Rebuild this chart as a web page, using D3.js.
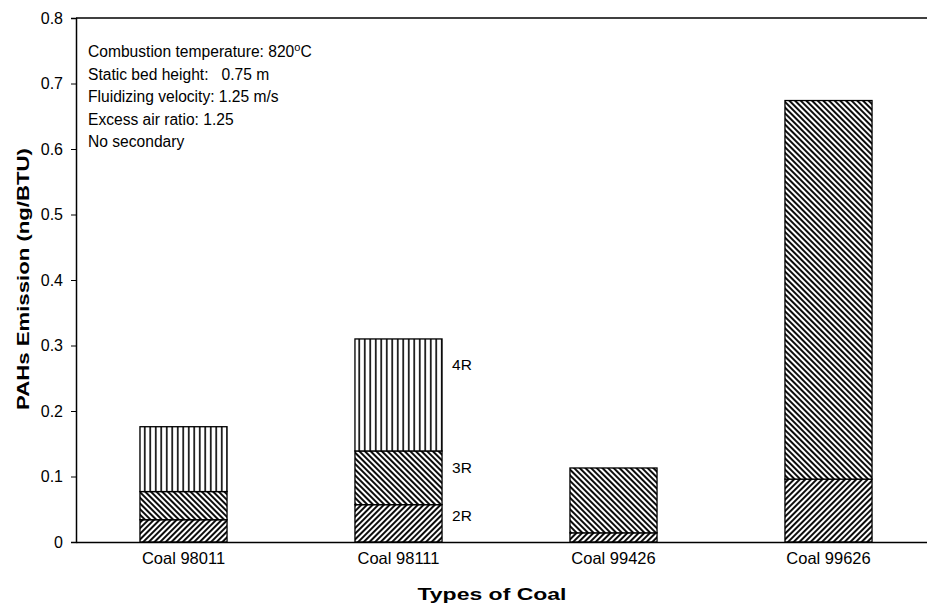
<!DOCTYPE html>
<html>
<head>
<meta charset="utf-8">
<script src="https://cdn.jsdelivr.net/npm/d3@7"></script>
<style>
  body { margin: 0; background: #fff; }
  text { font-family: "Liberation Sans", Arial, sans-serif; }
</style>
</head>
<body>
<svg id="chart" width="927" height="605"></svg>
<script>
// data
var coals = ["Coal 98011", "Coal 98111", "Coal 99426", "Coal 99626"];
var rings = ["2R", "3R", "4R"];
var val2R = [0.034, 0.057, 0.014, 0.096];
var val3R = [0.043, 0.082, 0.099, 0.578];
var val4R = [0.099, 0.171, 0, 0];
var ringLabelAt = [0.04, 0.113, 0.27];
var yTicks = [0, 0.1, 0.2, 0.3, 0.4, 0.5, 0.6, 0.7, 0.8];
var notes = ["Combustion temperature: 820", "Static bed height:   0.75 m",
             "Fluidizing velocity: 1.25 m/s", "Excess air ratio: 1.25", "No secondary"];

var margin = {top: 18, right: -9, bottom: 63, left: 76},
    width = 927 - margin.left - margin.right,
    height = 605 - margin.top - margin.bottom;

var root = d3.select("#chart");

// hatch patterns
var defs = root.append("defs");
function hatch(id, angle, gap, w) {
  var p = defs.append("pattern")
    .attr("id", id)
    .attr("patternUnits", "userSpaceOnUse")
    .attr("width", gap).attr("height", gap)
    .attr("patternTransform", "rotate(" + angle + ")");
  p.append("rect").attr("width", gap).attr("height", gap).attr("fill", "#fff");
  p.append("line")
    .attr("x1", gap / 2).attr("y1", 0).attr("x2", gap / 2).attr("y2", gap)
    .attr("stroke", "#000").attr("stroke-width", w);
}
hatch("p2R", 45, 4, 1.9);
hatch("p3R", -45, 4, 1.9);
hatch("p4R", 0, 5.5, 1.6);

var svg = root.append("g")
  .attr("transform", "translate(" + margin.left + "," + margin.top + ")");

var x = d3.scaleBand()
  .domain(coals)
  .range([0, width])
  .paddingInner(0.595)
  .paddingOuter(0.2975);

var y = d3.scaleLinear()
  .domain([0, 0.8])
  .range([height, 0]);

// stack the series
var table = coals.map(function(c, i) {
  return {coal: c, "2R": val2R[i], "3R": val3R[i], "4R": val4R[i]};
});
var stacked = d3.stack().keys(rings)(table);

svg.append("g")
  .selectAll("g")
  .data(stacked)
  .enter().append("g")
    .attr("fill", function(d) { return "url(#p" + d.key + ")"; })
  .selectAll("rect")
  .data(function(d) { return d.filter(function(s) { return s[1] - s[0] > 0; }); })
  .enter().append("rect")
    .attr("x", function(d) { return x(d.data.coal); })
    .attr("y", function(d) { return y(d[1]); })
    .attr("width", x.bandwidth())
    .attr("height", function(d) { return y(d[0]) - y(d[1]); })
    .attr("stroke", "#000")
    .attr("stroke-width", 1.3);

// plot frame (right side falls outside the picture)
svg.append("line")
  .attr("x1", 0).attr("x2", width).attr("y1", 0).attr("y2", 0)
  .attr("stroke", "#000").attr("stroke-width", 1.5);

// Y axis
var yAxis = svg.append("g")
  .attr("class", "axis y")
  .call(d3.axisLeft(y).tickValues(yTicks).tickSize(5).tickPadding(8)
    .tickFormat(function(d) { return d === 0 ? "0" : d3.format(".1f")(d); }));
yAxis.select(".domain").attr("stroke-width", 1.5);
yAxis.selectAll("text").style("font-size", "16px").attr("fill", "#000");

// X axis
var xAxis = svg.append("g")
  .attr("class", "axis x")
  .attr("transform", "translate(0," + height + ")")
  .call(d3.axisBottom(x).tickSize(0).tickPadding(10));
xAxis.select(".domain").attr("stroke-width", 1.5);
xAxis.selectAll("text").style("font-size", "16.5px").attr("fill", "#000");

// axis titles
svg.append("text")
  .text("Types of Coal")
  .attr("x", 416)
  .attr("y", 582)
  .attr("textLength", 149)
  .attr("lengthAdjust", "spacingAndGlyphs")
  .style("text-anchor", "middle")
  .style("font-size", "17px")
  .style("font-weight", "bold");

svg.append("text")
  .text("PAHs Emission (ng/BTU)")
  .attr("transform", "translate(-47,261) rotate(-90)")
  .attr("textLength", 262)
  .attr("lengthAdjust", "spacingAndGlyphs")
  .style("text-anchor", "middle")
  .style("font-size", "17px")
  .style("font-weight", "bold");

// conditions box
var note = svg.append("text")
  .attr("x", 12)
  .attr("y", 39)
  .style("font-size", "15.6px")
  .style("white-space", "pre");
notes.forEach(function(t, i) {
  note.append("tspan")
    .attr("x", 12)
    .attr("y", 39 + i * 22.5)
    .text(t);
  if (i === 0) {
    note.append("tspan").attr("dy", -6).style("font-size", "11px").text("o");
    note.append("tspan").attr("dy", 6).text("C");
  }
});

// ring labels beside the second bar
var labelBar = 1;
svg.append("g")
  .selectAll("text")
  .data(rings)
  .enter().append("text")
    .attr("x", x(coals[labelBar]) + x.bandwidth() + 10)
    .attr("y", function(d, i) { return y(ringLabelAt[i]) + 5; })
    .text(function(d) { return d; })
    .style("font-size", "15.5px");
</script>
</body>
</html>
